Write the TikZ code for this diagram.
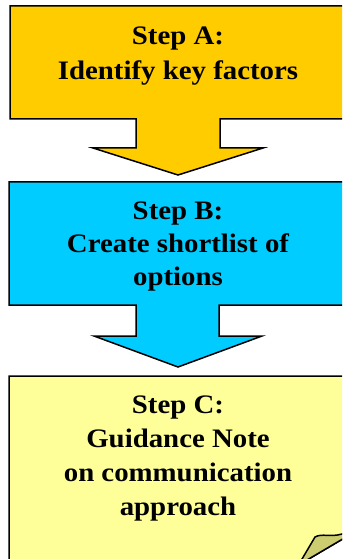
\documentclass[tikz,border=0pt]{standalone}
\usepackage{fontspec}
\setmainfont[FakeStretch=1.08]{Liberation Serif}
\definecolor{stepA}{HTML}{FFCC00}
\definecolor{stepB}{HTML}{00CCFF}
\definecolor{stepC}{HTML}{FFFF99}
\definecolor{foldC}{HTML}{CCCC70}
\tikzset{
  shapeline/.style={draw=black, line width=1.5bp, line join=miter},
  steptext/.style={align=center, inner sep=0pt, anchor=base},
}
\begin{document}
\begin{tikzpicture}[x=1bp, y=-1bp]
\useasboundingbox (0,0) rectangle (342,559);
\clip (0,0) rectangle (342,559);
% Step A arrow box
\path[shapeline, fill=stepA] (10,6) -- (352,6) -- (352,119) -- (220,119) -- (220,148) -- (263,148)
  -- (178,175) -- (93,148) -- (136,148) -- (136,119) -- (10,119) -- cycle;
% Step B arrow box
\path[shapeline, fill=stepB] (9,182) -- (352,182) -- (352,305) -- (219,305) -- (219,336) -- (262,336)
  -- (178,367) -- (94,336) -- (136,336) -- (136,305) -- (9,305) -- cycle;
% Step C note with curled corner
\path[shapeline, fill=stepC] (9,376) -- (352,376) -- (352,533.5) -- (298.5,565) -- (9,565) -- cycle;
\path[shapeline, fill=foldC] (298.5,565) -- (315,537) .. controls (322,533) and (330,537.5) .. (342,534)
  -- (352,531) -- (352,533.5) -- cycle;
% texts
\node[steptext, font=\bfseries\fontsize{26.8}{35.5}\selectfont] (ta) at (178,80) {Step A:\\Identify key factors};
\node[steptext, font=\bfseries\fontsize{26.8}{33}\selectfont] (tb) at (178,285) {Step B:\\Create shortlist of\\options};
\node[steptext, font=\bfseries\fontsize{26.8}{34}\selectfont] (tc) at (178,515) {Step C:\\Guidance Note\\on communication\\approach};
\end{tikzpicture}
\end{document}
